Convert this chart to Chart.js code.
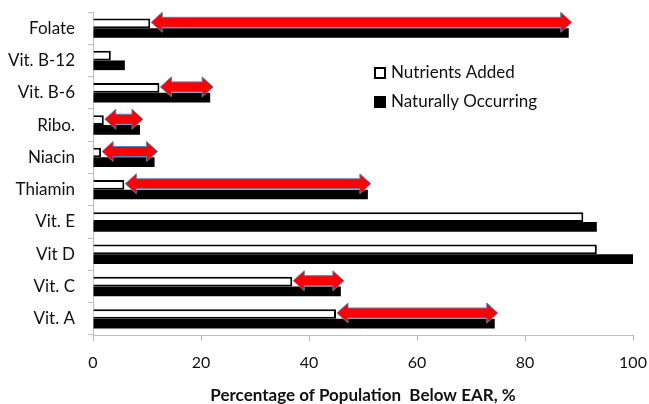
<!DOCTYPE html>
<html>
<head>
<meta charset="utf-8">
<script src="https://cdn.jsdelivr.net/npm/chart.js@4"></script>
<style>
  html, body { margin: 0; padding: 0; background: #fff; }
  #wrap { position: relative; width: 649px; height: 404px; }
</style>
</head>
<body>
<div id="wrap"><canvas id="chart" width="649" height="404"></canvas></div>
<script>
const categories = ['Folate', 'Vit. B-12', 'Vit. B-6', 'Ribo.', 'Niacin', 'Thiamin', 'Vit. E', 'Vit D', 'Vit. C', 'Vit. A']
const added = [10.6, 3.3, 12.3, 2.0, 1.5, 5.8, 90.8, 93.3, 36.9, 45.0]
const natural = [88.1, 5.9, 21.7, 8.7, 11.4, 50.9, 93.3, 100, 45.9, 74.4]
// which rows get the red double arrow (added -> natural)
const showArrow = [true, false, true, true, true, true, false, false, true, true]
const xTicks = [0, 20, 40, 60, 80, 100]

const FONT = 'Lato, "Open Sans", sans-serif'

const arrowPlugin = {
  id: 'arrows',
  afterDatasetsDraw(chart) {
    const ctx = chart.ctx
    const x = chart.scales.x
    const meta = chart.getDatasetMeta(0)
    categories.forEach((c, i) => {
      if (!showArrow[i]) return
      const y = meta.data[i].y - 1
      const x1 = x.getPixelForValue(added[i]) + 1
      const x2 = x.getPixelForValue(natural[i]) + 3
      const shaft = 5, head = 10, hl = 11
      ctx.save()
      ctx.beginPath()
      ctx.moveTo(x1, y)
      ctx.lineTo(x1 + hl, y - head)
      ctx.lineTo(x1 + hl, y - shaft)
      ctx.lineTo(x2 - hl, y - shaft)
      ctx.lineTo(x2 - hl, y - head)
      ctx.lineTo(x2, y)
      ctx.lineTo(x2 - hl, y + head)
      ctx.lineTo(x2 - hl, y + shaft)
      ctx.lineTo(x1 + hl, y + shaft)
      ctx.lineTo(x1 + hl, y + head)
      ctx.closePath()
      ctx.fillStyle = '#ff0000'
      ctx.fill()
      ctx.strokeStyle = '#4f81bd'
      ctx.lineWidth = 1
      ctx.stroke()
      ctx.restore()
    })
  }
}

const legendPlugin = {
  id: 'boxLegend',
  afterDraw(chart) {
    const ctx = chart.ctx
    const rows = [[374, 67], [374, 96]]
    ctx.save()
    chart.data.datasets.forEach((ds, i) => {
      const [lx, ly] = rows[i]
      ctx.fillStyle = ds.backgroundColor
      ctx.fillRect(lx, ly, 12, 12)
      ctx.strokeStyle = '#000'
      ctx.lineWidth = 2
      ctx.strokeRect(lx + 1, ly + 1, 10, 10)
      ctx.fillStyle = '#111'
      ctx.font = '17px ' + FONT
      ctx.textBaseline = 'middle'
      ctx.fillText(ds.label, lx + 17, ly + 6)
    })
    ctx.restore()
  }
}

new Chart(document.getElementById('chart'), {
  type: 'bar',
  data: {
    labels: categories,
    datasets: [
      { label: 'Nutrients Added', data: added, backgroundColor: '#ffffff', borderColor: '#000000', borderWidth: 2 },
      { label: 'Naturally Occurring', data: natural, backgroundColor: '#000000', borderColor: '#000000', borderWidth: 0 }
    ]
  },
  options: {
    indexAxis: 'y',
    responsive: false,
    animation: false,
    categoryPercentage: 0.6,
    barPercentage: 1.0,
    layout: { padding: { top: 12, right: 16, left: 0, bottom: 0 } },
    plugins: { legend: { display: false }, tooltip: { enabled: false } },
    scales: {
      x: {
        min: 0, max: 100,
        afterBuildTicks(scale) { scale.ticks = xTicks.map(v => ({ value: v })) },
        afterFit(scale) { scale.height = 69; scale.paddingRight = 0; scale.paddingLeft = 0 },
        grid: { drawOnChartArea: false, drawTicks: true, tickLength: 6, color: '#bdbdbd' },
        border: { color: '#bdbdbd', width: 1 },
        ticks: { color: '#111', font: { family: FONT, size: 16 }, padding: 12 },
        title: {
          display: true,
          text: 'Percentage of Population  Below EAR, %',
          color: '#111',
          font: { family: FONT, size: 17, weight: 'bold', lineHeight: 1.0 },
          padding: { top: 0, bottom: 0 }
        }
      },
      y: {
        afterFit(scale) { scale.width = 93; scale.paddingTop = 0; scale.paddingBottom = 0 },
        grid: { drawOnChartArea: false, drawTicks: true, tickLength: 5, color: '#bdbdbd', offset: true },
        border: { color: '#bdbdbd', width: 1 },
        ticks: { color: '#111', font: { family: FONT, size: 17 }, padding: 13 }
      }
    }
  },
  plugins: [arrowPlugin, legendPlugin]
})
</script>
</body>
</html>
